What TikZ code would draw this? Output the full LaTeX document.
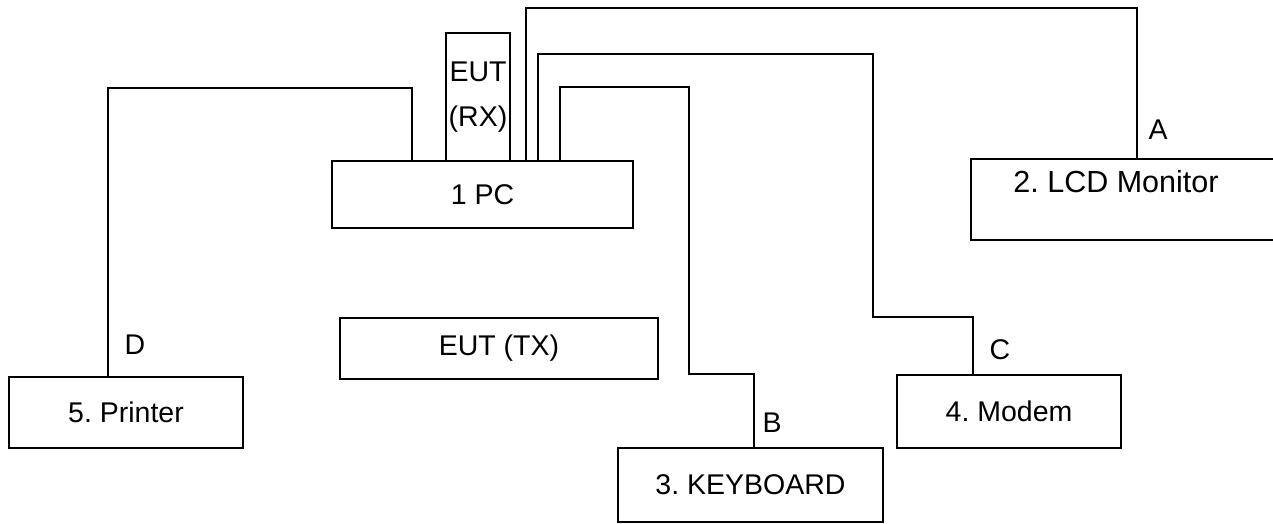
\documentclass[tikz,border=0pt]{standalone}
\usepackage{fontspec}
\setmainfont{Liberation Sans}
\usetikzlibrary{positioning}
\frenchspacing

\begin{document}
\begin{tikzpicture}[x=1pt,y=-1pt,
  box/.style={draw,line width=1.8pt,inner sep=2pt,outer sep=0pt,
    anchor=north west,font=\fontsize{28.5}{34}\selectfont},
  thickbox/.style={box,line width=2.6pt},
  wire/.style={line width=1.7pt},
  lbl/.style={font=\fontsize{28.5}{34}\selectfont}]
  \useasboundingbox (0,0) rectangle (1273,523);
  % Equipment
  \node[thickbox,minimum width=301,minimum height=67] (pc) at (332,161) {1 PC};
  \node[box,minimum width=64,minimum height=128,align=center,
    font=\fontsize{28.5}{45}\selectfont] (eutrx) at (446,33) {EUT\\(RX)};
  \node[box,minimum width=330,minimum height=81] (lcd) at (971,159) {};
  \node[lbl,font=\fontsize{30.5}{36}\selectfont] (lcdtxt) at (1116,182) {2. LCD Monitor};
  \node[box,minimum width=318,minimum height=61] (euttx) at (340,318) {EUT (TX)};
  \node[thickbox,minimum width=234,minimum height=71] (printer) at (9,377) {5. Printer};
  \node[thickbox,minimum width=265,minimum height=74] (kbd) at (618,448) {3. KEYBOARD};
  \node[thickbox,minimum width=224,minimum height=73] (modem) at (897,375) {4. Modem};
  % Cable bends
  \coordinate (kA) at (1137,8);
  \coordinate (kB1) at (689,87);
  \coordinate (kB2) at (754,374);
  \coordinate (kC1) at (873,54);
  \coordinate (kC2) at (973,317);
  \coordinate (kD) at (108,88);
  % Cables
  \draw[wire] ([xshift=194pt]pc.north west) |- (kA) -- (kA |- lcd.north);
  \draw[wire] ([xshift=228pt]pc.north west) |- (kB1) |- (kB2) -- (kB2 |- kbd.north);
  \draw[wire] ([xshift=206pt]pc.north west) |- (kC1) |- (kC2) -- (kC2 |- modem.north);
  \draw[wire] ([xshift=80pt]pc.north west) |- (kD) -- (kD |- printer.north);
  \node[lbl] (labA) at (1158,130) {A};
  \node[lbl] (labB) at (772,423) {B};
  \node[lbl] (labC) at (1000,350) {C};
  \node[lbl] (labD) at (135,345) {D};
\end{tikzpicture}
\end{document}
